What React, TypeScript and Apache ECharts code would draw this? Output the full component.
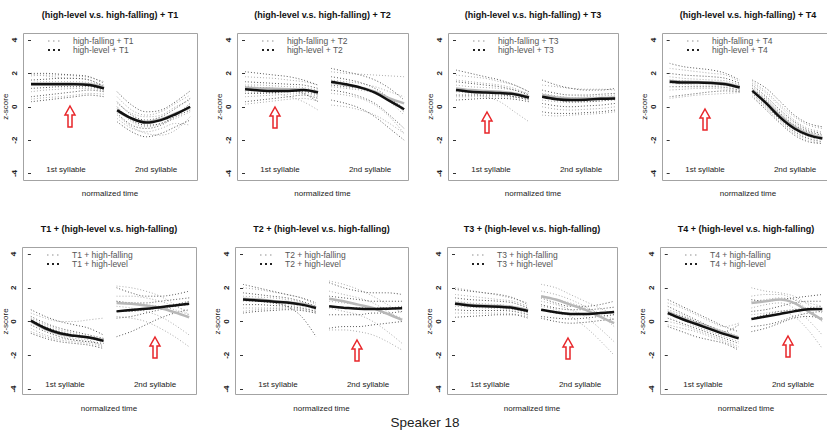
import React, { useEffect, useRef } from "react";
import * as echarts from "echarts";

// ---------- texts ----------
const panelTitles = [
  "(high-level v.s. high-falling) + T1",
  "(high-level v.s. high-falling) + T2",
  "(high-level v.s. high-falling) + T3",
  "(high-level v.s. high-falling) + T4",
  "T1 + (high-level v.s. high-falling)",
  "T2 + (high-level v.s. high-falling)",
  "T3 + (high-level v.s. high-falling)",
  "T4 + (high-level v.s. high-falling)",
];
const legendFalling = [
  "high-falling + T1", "high-falling + T2", "high-falling + T3", "high-falling + T4",
  "T1 + high-falling", "T2 + high-falling", "T3 + high-falling", "T4 + high-falling",
];
const legendLevel = [
  "high-level + T1", "high-level + T2", "high-level + T3", "high-level + T4",
  "T1 + high-level", "T2 + high-level", "T3 + high-level", "T4 + high-level",
];
const syllableLabels = ["1st syllable", "2nd syllable"];
const xAxisName = "normalized time";
const yAxisName = "z-score";
const caption = "Speaker 18";
const yMin = -4;
const yMax = 4;
const yStep = 2;

// normalized time sample points inside a syllable, and where each syllable starts
const sampleSteps = [0, 2, 4, 6, 8, 10];
const syllableStart = [0, 11.8];

// ---------- panel 1: (HL vs HF) + T1 ----------
const p1s1LevelMean = [1.35, 1.35, 1.35, 1.35, 1.3, 1.1];
const p1s1FallMean = [1.4, 1.4, 1.4, 1.38, 1.35, 1.15];
const p1s1Level = [[2.0, 2.0, 1.95, 1.9, 1.8, 1.4], [1.6, 1.65, 1.7, 1.7, 1.6, 1.2], [1.1, 1.15, 1.2, 1.2, 1.2, 1.0], [0.6, 0.7, 0.8, 0.9, 1.0, 0.9], [0.3, 0.4, 0.5, 0.6, 0.7, 0.6]];
const p1s1Fall = [[1.85, 1.9, 1.9, 1.85, 1.75, 1.5], [1.45, 1.5, 1.5, 1.5, 1.45, 1.3], [0.9, 1.0, 1.05, 1.1, 1.1, 0.95], [1.95, 1.85, 1.75, 1.7, 1.6, 1.25], [0.45, 0.55, 0.6, 0.7, 0.8, 0.75]];
const p1s2LevelMean = [-0.2, -0.7, -0.95, -0.8, -0.45, 0.0];
const p1s2FallMean = [-0.25, -0.7, -0.9, -0.75, -0.4, -0.05];
const p1s2Level = [[0.9, 0.1, -0.3, -0.2, 0.3, 0.95], [0.3, -0.5, -0.8, -0.6, -0.1, 0.5], [-0.4, -1.1, -1.3, -1.1, -0.6, -0.2], [-0.9, -1.5, -1.8, -1.6, -1.2, -0.8], [0.0, -0.8, -1.1, -1.0, -0.5, 0.2]];
const p1s2Fall = [[0.6, -0.2, -0.5, -0.3, 0.2, 0.7], [-0.1, -0.9, -1.2, -1.0, -0.7, -0.3], [-0.7, -1.3, -1.5, -1.3, -1.0, -1.1], [0.2, -0.4, -0.6, -0.5, 0.0, 0.4], [-0.5, -1.2, -1.6, -1.7, -1.4, -0.6]];

// ---------- panel 2: (HL vs HF) + T2 ----------
const p2s1LevelMean = [1.05, 0.98, 0.95, 0.95, 1.0, 0.85];
const p2s1FallMean = [1.15, 1.1, 1.08, 1.05, 1.02, 0.9];
const p2s1Level = [[2.1, 2.0, 1.9, 1.8, 1.6, 1.3], [1.5, 1.45, 1.4, 1.35, 1.3, 1.1], [0.8, 0.8, 0.85, 0.9, 0.9, 0.7], [0.3, 0.4, 0.5, 0.6, 0.7, 0.5], [1.2, 1.15, 1.1, 1.0, 0.8, 0.3]];
const p2s1Fall = [[1.8, 1.75, 1.7, 1.6, 1.5, 1.3], [1.3, 1.3, 1.25, 1.2, 1.15, 1.0], [0.6, 0.65, 0.7, 0.75, 0.8, 0.6], [0.9, 0.85, 0.8, 0.6, 0.3, -0.2], [0.15, 0.25, 0.35, 0.45, 0.5, 0.35]];
const p2s2LevelMean = [1.5, 1.35, 1.15, 0.85, 0.35, -0.15];
const p2s2FallMean = [1.45, 1.3, 1.15, 0.9, 0.5, 0.2];
const p2s2Level = [[2.3, 2.1, 1.9, 1.6, 1.1, 0.4], [1.8, 1.65, 1.45, 1.1, 0.5, -0.3], [1.0, 0.85, 0.6, 0.2, -0.5, -1.3], [0.4, 0.2, -0.1, -0.6, -1.3, -2.0], [1.3, 1.2, 1.1, 0.9, 0.5, -0.1]];
const p2s2Fall = [[2.1, 2.0, 1.95, 1.9, 1.85, 1.8], [1.6, 1.5, 1.4, 1.2, 0.9, 0.6], [0.8, 0.7, 0.5, 0.1, -0.6, -1.6], [1.2, 1.1, 1.0, 0.8, 0.3, -0.5], [0.1, 0.0, -0.2, -0.5, -1.0, -1.6]];

// ---------- panel 3: (HL vs HF) + T3 ----------
const p3s1LevelMean = [1.0, 0.9, 0.85, 0.82, 0.75, 0.55];
const p3s1FallMean = [1.1, 1.0, 0.95, 0.9, 0.8, 0.6];
const p3s1Level = [[2.2, 2.0, 1.8, 1.6, 1.3, 0.9], [1.5, 1.4, 1.3, 1.2, 1.0, 0.7], [0.7, 0.7, 0.7, 0.7, 0.6, 0.4], [0.4, 0.45, 0.5, 0.5, 0.45, 0.3], [1.1, 1.0, 0.9, 0.8, 0.6, 0.5]];
const p3s1Fall = [[1.9, 1.8, 1.7, 1.5, 1.3, 0.9], [1.3, 1.2, 1.15, 1.1, 1.0, 0.8], [0.9, 0.8, 0.6, 0.3, -0.3, -0.9], [0.6, 0.6, 0.6, 0.6, 0.55, 0.45], [1.6, 1.5, 1.4, 1.3, 1.1, 0.7]];
const p3s2LevelMean = [0.6, 0.45, 0.4, 0.42, 0.48, 0.5];
const p3s2FallMean = [0.7, 0.55, 0.5, 0.5, 0.52, 0.55];
const p3s2Level = [[1.6, 1.3, 1.1, 1.0, 1.0, 1.1], [1.0, 0.8, 0.7, 0.7, 0.75, 0.8], [0.2, 0.05, 0.0, 0.05, 0.1, 0.2], [-0.3, -0.4, -0.4, -0.35, -0.3, -0.2], [0.6, 0.4, 0.3, 0.3, 0.35, 0.45]];
const p3s2Fall = [[1.3, 1.2, 1.1, 1.05, 1.05, 1.0], [0.8, 0.65, 0.55, 0.6, 0.65, 0.7], [0.0, -0.15, -0.2, -0.15, -0.1, 0.0], [-0.5, -0.55, -0.5, -0.45, -0.4, -0.3], [0.4, 0.3, 0.25, 0.3, 0.35, 0.4]];

// ---------- panel 4: (HL vs HF) + T4 ----------
const p4s1LevelMean = [1.5, 1.45, 1.45, 1.42, 1.35, 1.15];
const p4s1FallMean = [1.55, 1.5, 1.48, 1.45, 1.4, 1.2];
const p4s1Level = [[2.6, 2.4, 2.3, 2.2, 2.0, 1.6], [2.0, 1.9, 1.85, 1.8, 1.7, 1.4], [1.2, 1.2, 1.2, 1.2, 1.15, 1.0], [0.6, 0.7, 0.8, 0.9, 0.95, 0.9], [1.6, 1.55, 1.5, 1.45, 1.4, 1.2]];
const p4s1Fall = [[2.3, 2.2, 2.1, 2.0, 1.9, 1.5], [1.8, 1.7, 1.65, 1.6, 1.55, 1.3], [1.0, 1.05, 1.1, 1.1, 1.05, 0.95], [0.5, 0.6, 0.7, 0.75, 0.8, 0.85], [1.4, 1.35, 1.3, 1.3, 1.25, 1.1]];
const p4s2LevelMean = [0.95, 0.2, -0.65, -1.3, -1.7, -1.9];
const p4s2FallMean = [1.0, 0.25, -0.55, -1.2, -1.65, -1.85];
const p4s2Level = [[1.6, 1.1, 0.3, -0.5, -1.0, -1.2], [1.3, 0.6, -0.2, -0.9, -1.4, -1.6], [0.8, 0.0, -0.8, -1.5, -1.9, -2.1], [0.6, -0.2, -1.0, -1.7, -2.1, -2.2], [1.1, 0.4, -0.4, -1.1, -1.5, -1.7]];
const p4s2Fall = [[1.5, 0.9, 0.1, -0.6, -1.1, -1.3], [1.2, 0.5, -0.3, -1.0, -1.5, -1.8], [0.9, 0.1, -0.7, -1.4, -1.8, -2.0], [0.7, -0.1, -0.9, -1.6, -2.0, -2.2], [1.4, 0.8, 0.0, -0.8, -1.3, -1.5]];

// ---------- panel 5: T1 + (HL vs HF) ----------
const p5s1LevelMean = [0.05, -0.4, -0.7, -0.85, -0.95, -1.15];
const p5s1FallMean = [0.0, -0.45, -0.75, -0.85, -0.95, -1.1];
const p5s1Level = [[0.7, 0.3, 0.0, -0.2, -0.4, -0.8], [0.3, -0.1, -0.4, -0.6, -0.8, -1.0], [-0.2, -0.6, -0.9, -1.1, -1.2, -1.3], [-0.7, -1.0, -1.2, -1.3, -1.4, -1.6], [0.1, -0.3, -0.6, -0.8, -1.0, -1.2]];
const p5s1Fall = [[0.5, 0.2, 0.0, 0.0, 0.1, 0.2], [0.2, -0.2, -0.5, -0.7, -0.9, -1.1], [-0.4, -0.8, -1.0, -1.1, -1.2, -1.4], [0.0, -0.5, -0.8, -1.0, -1.1, -1.5], [-0.6, -0.9, -1.1, -1.2, -1.3, -1.5]];
const p5s2LevelMean = [0.6, 0.68, 0.75, 0.85, 0.95, 1.05];
const p5s2FallMean = [1.1, 1.05, 0.95, 0.8, 0.55, 0.25];
const p5s2Level = [[2.0, 1.7, 1.5, 1.5, 1.6, 1.8], [1.2, 1.1, 1.1, 1.2, 1.3, 1.4], [0.2, 0.3, 0.5, 0.7, 0.9, 1.0], [-0.9, -0.6, -0.2, 0.2, 0.5, 0.7], [0.6, 0.6, 0.7, 0.8, 1.0, 1.2]];
const p5s2Fall = [[2.1, 2.0, 1.8, 1.5, 1.0, 0.4], [1.5, 1.5, 1.4, 1.2, 0.9, 0.6], [0.9, 0.8, 0.6, 0.3, -0.2, -0.8], [0.3, 0.2, 0.0, -0.4, -0.9, -1.5], [1.2, 1.1, 1.0, 0.9, 0.7, 0.4]];

// ---------- panel 6: T2 + (HL vs HF) ----------
const p6s1LevelMean = [1.3, 1.25, 1.18, 1.12, 1.0, 0.8];
const p6s1FallMean = [1.35, 1.3, 1.22, 1.15, 1.05, 0.85];
const p6s1Level = [[2.2, 2.0, 1.8, 1.6, 1.4, 1.1], [1.7, 1.6, 1.5, 1.4, 1.2, 0.9], [1.0, 1.0, 0.95, 0.9, 0.8, 0.6], [0.5, 0.6, 0.65, 0.7, 0.65, 0.5], [1.3, 1.2, 1.1, 0.9, 0.3, -0.9]];
const p6s1Fall = [[2.0, 1.9, 1.75, 1.6, 1.4, 1.0], [1.5, 1.45, 1.4, 1.3, 1.15, 0.9], [0.8, 0.8, 0.8, 0.8, 0.7, 0.5], [1.2, 1.2, 1.1, 1.0, 0.9, 0.7], [0.6, 0.7, 0.75, 0.8, 0.75, 0.6]];
const p6s2LevelMean = [0.9, 0.82, 0.75, 0.74, 0.76, 0.78];
const p6s2FallMean = [1.35, 1.2, 1.0, 0.8, 0.45, 0.1];
const p6s2Level = [[2.3, 2.0, 1.8, 1.7, 1.7, 1.6], [1.5, 1.4, 1.3, 1.2, 1.2, 1.2], [0.4, 0.4, 0.4, 0.5, 0.5, 0.6], [-0.4, -0.3, -0.3, -0.2, -0.1, 0.0], [0.9, 0.8, 0.8, 0.8, 0.8, 0.9]];
const p6s2Fall = [[2.4, 2.2, 1.9, 1.5, 1.0, 0.5], [1.8, 1.6, 1.4, 1.1, 0.6, 0.1], [0.8, 0.6, 0.4, 0.0, -0.6, -1.3], [-0.5, -0.5, -0.6, -0.8, -1.2, -1.7], [1.2, 1.1, 1.0, 0.8, 0.5, 0.2]];

// ---------- panel 7: T3 + (HL vs HF) ----------
const p7s1LevelMean = [1.05, 0.95, 0.9, 0.88, 0.8, 0.62];
const p7s1FallMean = [1.1, 1.0, 0.95, 0.92, 0.85, 0.68];
const p7s1Level = [[1.9, 1.8, 1.7, 1.6, 1.4, 1.0], [1.4, 1.3, 1.25, 1.2, 1.1, 0.8], [0.7, 0.65, 0.65, 0.65, 0.6, 0.4], [0.25, 0.3, 0.35, 0.4, 0.4, 0.2], [1.1, 1.0, 0.9, 0.85, 0.75, 0.55]];
const p7s1Fall = [[2.0, 1.85, 1.7, 1.55, 1.35, 1.1], [1.6, 1.5, 1.4, 1.3, 1.2, 0.9], [0.9, 0.85, 0.8, 0.75, 0.7, 0.5], [0.5, 0.5, 0.5, 0.5, 0.45, 0.3], [1.2, 1.1, 1.05, 1.0, 0.9, 0.7]];
const p7s2LevelMean = [0.7, 0.55, 0.45, 0.45, 0.5, 0.56];
const p7s2FallMean = [1.5, 1.3, 1.0, 0.7, 0.3, -0.1];
const p7s2Level = [[1.4, 1.1, 0.9, 0.9, 1.0, 1.2], [1.0, 0.8, 0.7, 0.7, 0.75, 0.85], [0.3, 0.2, 0.15, 0.2, 0.3, 0.4], [0.2, 0.0, -0.1, -0.05, 0.05, 0.15], [0.7, 0.5, 0.4, 0.4, 0.5, 0.6]];
const p7s2Fall = [[2.2, 2.0, 1.6, 1.2, 0.8, 0.4], [1.8, 1.6, 1.3, 0.9, 0.4, -0.3], [1.2, 1.0, 0.7, 0.3, -0.4, -1.2], [0.9, 0.7, 0.3, -0.3, -1.1, -2.0], [1.5, 1.3, 1.1, 0.8, 0.5, 0.1]];

// ---------- panel 8: T4 + (HL vs HF) ----------
const p8s1LevelMean = [0.5, 0.15, -0.15, -0.45, -0.75, -1.0];
const p8s1FallMean = [0.55, 0.2, -0.1, -0.4, -0.7, -0.95];
const p8s1Level = [[1.3, 0.9, 0.5, 0.1, -0.3, -0.6], [0.9, 0.5, 0.1, -0.3, -0.6, -0.9], [0.2, -0.1, -0.4, -0.7, -1.0, -1.3], [-0.3, -0.6, -0.9, -1.1, -1.3, -1.7], [0.6, 0.3, 0.0, -0.3, -0.6, -0.2]];
const p8s1Fall = [[1.1, 0.8, 0.4, 0.0, -0.3, -0.1], [0.7, 0.4, 0.0, -0.4, -0.7, -1.0], [0.0, -0.2, -0.5, -0.8, -1.1, -1.5], [0.4, 0.1, -0.3, -0.6, -0.9, -1.2], [-0.2, -0.4, -0.6, -0.9, -1.2, -1.6]];
const p8s2LevelMean = [0.14, 0.3, 0.45, 0.6, 0.72, 0.74];
const p8s2FallMean = [1.1, 1.2, 1.3, 1.1, 0.6, 0.1];
const p8s2Level = [[1.3, 1.2, 1.3, 1.4, 1.5, 1.6], [0.6, 0.7, 0.9, 1.1, 1.2, 1.2], [-0.3, -0.2, 0.0, 0.3, 0.5, 0.6], [-0.6, -0.4, -0.1, 0.2, 0.3, 0.2], [0.2, 0.4, 0.6, 0.7, 0.8, 0.9]];
const p8s2Fall = [[2.0, 1.8, 1.7, 1.5, 1.0, 0.5], [1.5, 1.6, 1.6, 1.3, 0.7, 0.0], [0.8, 1.0, 1.1, 0.8, 0.1, -0.8], [0.4, 0.5, 0.6, 0.3, -0.5, -1.6], [1.2, 1.3, 1.4, 1.3, 1.1, 0.9]];

// ---------- layout (pixels) ----------
const ROWS = [
  { top: 33, bottom: 180, tickTop: 40, tickBottom: 173.5, titleY: 15, nameY: 193, sylY: 169 },
  { top: 247, bottom: 394, tickTop: 254, tickBottom: 389, titleY: 229, nameY: 408, sylY: 384 },
];
const BOXES = [[23, 197], [237, 408], [448, 618], [662, 834], [22, 196], [235, 408], [447, 617], [660, 832]];
const ARROWS = [[47, 73], [38, 74], [39, 79], [43, 76], [133, 90], [122, 93], [121, 91], [128, 89]];
const PX_PER_T = 7.3;
const X_PAD = 8;
const FONT = "Liberation Sans, Arial, sans-serif";

export default function App() {
  const ref = useRef<HTMLDivElement>(null);

  useEffect(() => {
    if (!ref.current) return;
    const chart = echarts.init(ref.current, undefined, { renderer: "svg" });

    const panels = [
      [[p1s1LevelMean, p1s1FallMean, p1s1Level, p1s1Fall], [p1s2LevelMean, p1s2FallMean, p1s2Level, p1s2Fall]],
      [[p2s1LevelMean, p2s1FallMean, p2s1Level, p2s1Fall], [p2s2LevelMean, p2s2FallMean, p2s2Level, p2s2Fall]],
      [[p3s1LevelMean, p3s1FallMean, p3s1Level, p3s1Fall], [p3s2LevelMean, p3s2FallMean, p3s2Level, p3s2Fall]],
      [[p4s1LevelMean, p4s1FallMean, p4s1Level, p4s1Fall], [p4s2LevelMean, p4s2FallMean, p4s2Level, p4s2Fall]],
      [[p5s1LevelMean, p5s1FallMean, p5s1Level, p5s1Fall], [p5s2LevelMean, p5s2FallMean, p5s2Level, p5s2Fall]],
      [[p6s1LevelMean, p6s1FallMean, p6s1Level, p6s1Fall], [p6s2LevelMean, p6s2FallMean, p6s2Level, p6s2Fall]],
      [[p7s1LevelMean, p7s1FallMean, p7s1Level, p7s1Fall], [p7s2LevelMean, p7s2FallMean, p7s2Level, p7s2Fall]],
      [[p8s1LevelMean, p8s1FallMean, p8s1Level, p8s1Fall], [p8s2LevelMean, p8s2FallMean, p8s2Level, p8s2Fall]],
    ] as any[];

    const grids: any[] = [];
    const xAxes: any[] = [];
    const yAxes: any[] = [];
    const series: any[] = [];
    const graphics: any[] = [];

    const toPoints = (vals: number[], s: number) =>
      vals.map((v, k) => [syllableStart[s] + sampleSteps[k], v]);

    const mkLine = (i: number, data: number[][], color: string, width: number, dotted: boolean, z: number) => ({
      type: "line",
      xAxisIndex: i,
      yAxisIndex: i,
      data,
      smooth: 0.35,
      showSymbol: false,
      symbol: "none",
      silent: true,
      z,
      lineStyle: { color, width, type: dotted ? [1, 2] : "solid", cap: "butt" },
    });

    panels.forEach((panel: any[], i: number) => {
      const row = ROWS[i < 4 ? 0 : 1];
      const [bl, br] = BOXES[i];
      const bw = br - bl;
      const xMin = -X_PAD / PX_PER_T;
      grids.push({
        left: bl,
        top: row.tickTop,
        width: bw,
        height: row.tickBottom - row.tickTop,
        show: false,
      });
      xAxes.push({ type: "value", gridIndex: i, min: xMin, max: xMin + bw / PX_PER_T, show: false });
      yAxes.push({
        type: "value",
        gridIndex: i,
        min: yMin,
        max: yMax,
        interval: yStep,
        name: yAxisName,
        nameLocation: "middle",
        nameRotate: 90,
        nameGap: 13,
        nameTextStyle: { fontSize: 8, color: "#222", fontFamily: FONT },
        axisLine: { show: false },
        axisTick: { show: true, length: 3, lineStyle: { color: "#333", width: 1 } },
        axisLabel: { rotate: 90, fontSize: 8, color: "#222", margin: 5, fontFamily: FONT, fontWeight: "bold" },
        splitLine: { show: false },
      });

      panel.forEach((syl: any[], s: number) => {
        const [levelMean, fallMean, levelTok, fallTok] = syl;
        fallTok.forEach((t: number[]) => series.push(mkLine(i, toPoints(t, s), "#adadad", 1, true, 2)));
        levelTok.forEach((t: number[]) => series.push(mkLine(i, toPoints(t, s), "#5a5a5a", 1, true, 3)));
        series.push(mkLine(i, toPoints(fallMean, s), "#b8b8b8", 2.5, false, 4));
        series.push(mkLine(i, toPoints(levelMean, s), "#111", 2.5, false, 5));
      });

      const cx = (bl + br) / 2;
      // frame
      graphics.push({
        type: "rect",
        shape: { x: bl + 0.5, y: row.top + 0.5, width: bw, height: row.bottom - row.top },
        style: { fill: "none", stroke: "#a3a3a3", lineWidth: 1 },
        z: 10,
        silent: true,
      });
      // title
      graphics.push({
        type: "text",
        x: cx,
        y: row.titleY,
        style: { text: panelTitles[i], font: `bold 9px ${FONT}`, fill: "#111", align: "center", verticalAlign: "middle" },
        z: 10,
      });
      // x axis name
      graphics.push({
        type: "text",
        x: cx,
        y: row.nameY,
        style: { text: xAxisName, font: `8px ${FONT}`, fill: "#222", align: "center", verticalAlign: "middle" },
        z: 10,
      });
      // syllable labels
      [43, 133].forEach((off, s) =>
        graphics.push({
          type: "text",
          x: bl + off,
          y: row.sylY,
          style: { text: syllableLabels[s], font: `8px ${FONT}`, fill: "#222", align: "center", verticalAlign: "middle" },
          z: 10,
        })
      );
      // legend
      const legY = [row.top + 8, row.top + 17];
      graphics.push({
        type: "line",
        shape: { x1: bl + 25, y1: legY[0], x2: bl + 38, y2: legY[0] },
        style: { stroke: "#b5b5b5", lineWidth: 1.5, lineDash: [1.5, 3.5] },
        z: 10,
      });
      graphics.push({
        type: "line",
        shape: { x1: bl + 25, y1: legY[1], x2: bl + 38, y2: legY[1] },
        style: { stroke: "#222", lineWidth: 2, lineDash: [2, 3] },
        z: 10,
      });
      graphics.push({
        type: "text",
        x: bl + 50,
        y: legY[0],
        style: { text: legendFalling[i], font: `8.5px ${FONT}`, fill: "#555", verticalAlign: "middle" },
        z: 10,
      });
      graphics.push({
        type: "text",
        x: bl + 50,
        y: legY[1],
        style: { text: legendLevel[i], font: `8.5px ${FONT}`, fill: "#555", verticalAlign: "middle" },
        z: 10,
      });
      // red arrow
      const ax = bl + ARROWS[i][0];
      const ay = row.top + ARROWS[i][1];
      graphics.push({
        type: "polygon",
        shape: {
          points: [
            [ax, ay], [ax + 5, ay + 9], [ax + 2, ay + 9], [ax + 2, ay + 21],
            [ax - 2, ay + 21], [ax - 2, ay + 9], [ax - 5, ay + 9],
          ],
        },
        style: { fill: "#fff", stroke: "#e8262a", lineWidth: 1.5 },
        z: 11,
      });
    });

    graphics.push({
      type: "text",
      x: 425,
      y: 422,
      style: { text: caption, font: `13.5px ${FONT}`, fill: "#222", align: "center", verticalAlign: "middle" },
      z: 10,
    });

    chart.setOption({
      animation: false,
      backgroundColor: "#fff",
      grid: grids,
      xAxis: xAxes,
      yAxis: yAxes,
      series,
      graphic: graphics,
    });

    return () => chart.dispose();
  }, []);

  return (
    <div
      ref={ref}
      style={{ position: "fixed", left: 0, top: 0, width: 827, height: 434, background: "#fff" }}
    />
  );
}
